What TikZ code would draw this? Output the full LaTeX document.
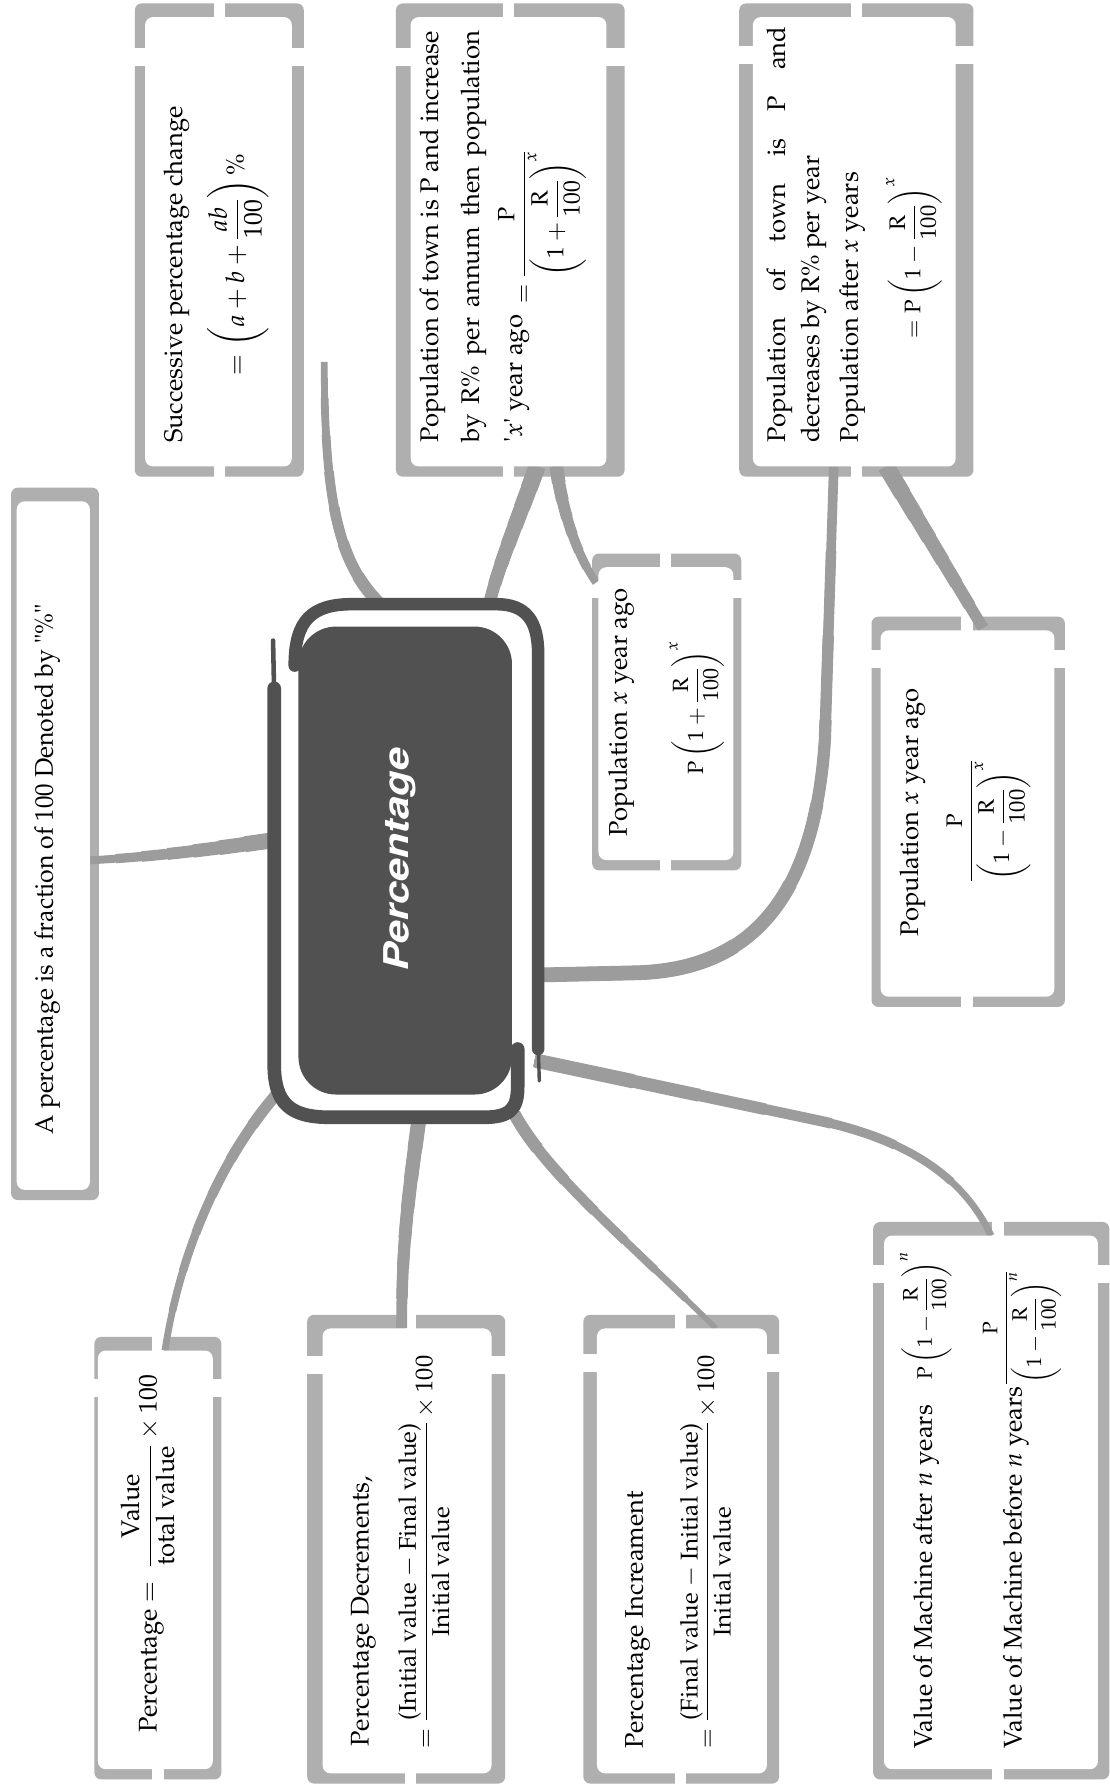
\documentclass[tikz,border=0pt]{standalone}
\usepackage[T1]{fontenc}
\usepackage{mathpazo}
\usepackage{amsmath}
\usepackage{textcomp}
\usepackage{graphicx}
\usetikzlibrary{calc}
\definecolor{framegray}{HTML}{AFAFAF}
\definecolor{branchgray}{HTML}{9C9C9C}
\definecolor{hubfill}{HTML}{515151}
\pgfdeclarelayer{bg}
\pgfdeclarelayer{conn}
\pgfsetlayers{bg,conn,main}
\tikzset{
  wbox/.style={fill=white, draw=none, rounded corners=7pt, inner sep=0pt, outer sep=0pt},
  branch/.style={draw=branchgray, line cap=butt},
  txt/.style={rotate=90, inner sep=0pt, outer sep=0pt, font=\fontsize{22.5}{31}\selectfont, anchor=base west},
  hubline/.style={draw=hubfill, line cap=round, line join=round},
}
% name, x1, y1, x2, y2, vertical gap x, horizontal gap y, left margin, right margin
\newcommand\cbox[9]{%
  \begin{pgfonlayer}{bg}
    \fill[framegray, rounded corners=6pt] (#2-#8,#3-12) rectangle (#4+#9,#5+9);
    \fill[white] (#6-5,#3-20) rectangle (#6+5,#5+20);
    \fill[white] (#2-#8-6,#7-8) rectangle (#4+#9+6,#7+8);
  \end{pgfonlayer}
  \node[wbox, minimum width={#4-#2}, minimum height={#5-#3}] (#1) at ({(#2+#4)/2},{(#3+#5)/2}) {};
}
% path, thin width, thick width, approx length  (tapered branch)
\newcommand\branch[4]{%
  \begin{pgfonlayer}{conn}
    \foreach \k in {0,...,6}{%
      \pgfmathsetmacro\bw{#2+(#3-#2)*\k/6}%
      \pgfmathsetmacro\bo{#4*\k/7}%
      \draw[branch, line width=\bw pt, dash pattern=on 0pt off \bo pt on 5000pt] #1;
    }
  \end{pgfonlayer}
}
\begin{document}
\begin{tikzpicture}[x=1pt, y=-1pt]
\useasboundingbox (0,0) rectangle (975,1568);
\begin{pgfonlayer}{bg}
  \fill[white] (0,0) rectangle (975,1568);
\end{pgfonlayer}

% boxes
\cbox{A}{14.7}{440.6}{79}{1045.8}{-100}{-100}{5}{8}
\cbox{S}{127.5}{15}{256.5}{410}{193}{50}{9}{10.5}
\cbox{T}{361}{15}{533}{410}{447}{50}{13}{16}
\cbox{D}{661.7}{15}{840}{410}{753}{48}{12}{15.6}
\cbox{PA}{526}{498.5}{644.5}{756}{585}{518}{5.5}{7}
\cbox{PB}{774}{554}{926.7}{876}{850}{579}{8}{9.3}
\cbox{V}{86}{1187}{187}{1555}{139}{1220}{3}{7.5}
\cbox{Dec}{283.5}{1167.6}{432}{1558.6}{361}{1200}{13.5}{12}
\cbox{Inc}{524.7}{1167.6}{674}{1558.6}{598}{1198}{12}{10.7}
\cbox{M}{777}{1086}{965}{1555}{877}{1120}{9.5}{10}

% central hub
\node[fill=hubfill, rounded corners=33pt, minimum width=187.7, minimum height=411.3, inner sep=0pt, outer sep=0pt] (P) at (356.15,756.35) {};
\draw[hubline, line width=11pt] (259,585) .. controls (259,545) and (274,531) .. (310,531) -- (436,531) .. controls (462,531) and (473,545) .. (473,575) -- (473,922);
\draw[hubline, line width=3pt] (473,915) -- (474,950);
\draw[hubline, line width=4pt] (240,563) -- (241,612);
\draw[hubline, line width=12pt] (241,605) -- (241,935) .. controls (241,970) and (255,982) .. (290,982) -- (425,982) .. controls (448,982) and (455,975) .. (455,955) -- (455,922);
\node[rotate=90, text=white, inner sep=0pt, font=\fontsize{30}{30}\usefont{T1}{phv}{b}{sl}] (Pt) at (352,756.6) {\scalebox{1.22}[1]{Percentage}};

% connectors
\coordinate (sEnd) at ($(S.south east)+(28.5,-92)$);
\branch{($(A.east)+(0,13)$) .. controls (150,752) and (200,744) .. ($(P.west)+(-22,-17.85)$)}{7}{14}{160}
\branch{(sEnd) .. controls (285,440) and (298,495) .. ($(P.north)+(-23,-20.7)$)}{6}{11}{225}
\branch{($(P.north)+(74,-20)$) .. controls (437,500) and (456,455) .. ($(T.south)+(25,0)$)}{11}{15}{125}
\branch{($(PA.north west)+(-2,13.5)$) .. controls (508,490) and (494,450) .. ($(T.south)+(42,0)$)}{7}{12}{110}
\branch{($(D.south)+(-18,0)$) -- (725,650) .. controls (716,790) and (660,852) .. (560,855) -- ($(P.east)+(20,100.65)$)}{8.5}{13}{520}
\branch{($(PB.north)+(13.65,-2)$) -- ($(D.south)+(28,0)$)}{10}{15}{160}
\branch{(M.north) .. controls (845,1030) and (790,1000) .. (720,985) -- ($(P.east)+(20,175.65)$)}{6}{12.5}{415}
\branch{($(Inc.north)+(30,0)$) .. controls (540,1080) and (480,1030) .. ($(P.south east)+(2,17)$)}{5}{11}{260}
\branch{($(Dec.north)+(-4.75,0)$) .. controls (353,1090) and (360,1045) .. ($(P.south)+(12,22)$)}{9.5}{13}{185}
\branch{($(V.north)+(8.5,0)$) .. controls (160,1090) and (200,1010) .. ($(P.south west)+(-16,-4)$)}{6}{10}{250}

% texts
\node[txt] (At) at (46.5,997) {\scalebox{0.97}[1]{A percentage is a fraction of 100 Denoted by "\%"}};

\node[txt] (St1) at (160,389.3) {Successive percentage change};
\node[txt] (St2) at (214.6,330) {$=\left(a+b+\dfrac{ab}{100}\right)\%$};

\node[txt] (Tt1) at (385,389.3) {\makebox[362pt][s]{Population of town is P and increase}};
\node[txt] (Tt2) at (421,389.3) {\makebox[362pt][s]{by R\% per annum then population}};
\node[txt] (Tt3) at (459,389.3) {\textquotesingle$x$\textquotesingle\ year ago};
\node[txt] (Tf) at (466,267) {\scalebox{0.92}{$=\dfrac{\mathrm{P}}{\left(1+\dfrac{\mathrm{R}}{100}\right)^{x}}$}};

\node[txt] (Dt1) at (690,389.3) {\makebox[366pt][s]{Population of town is P and}};
\node[txt] (Dt2) at (720,389.3) {decreases by R\% per year};
\node[txt] (Dt3) at (754,389.3) {Population after $x$ years};
\node[txt] (Df) at (809,298) {\scalebox{0.88}{$=\mathrm{P}\left(1-\dfrac{\mathrm{R}}{100}\right)^{x}$}};

\node[txt] (PAt) at (551,735.6) {Population $x$ year ago};
\node[txt] (PAf) at (618,681) {\scalebox{0.86}{$\mathrm{P}\left(1+\dfrac{\mathrm{R}}{100}\right)^{x}$}};

\node[txt] (PBt) at (807,823.5) {Population $x$ year ago};
\node[txt] (PBf) at (859,775) {\scalebox{0.88}{$\dfrac{\mathrm{P}}{\left(1-\dfrac{\mathrm{R}}{100}\right)^{x}}$}};

\node[txt] (Vt) at (137.6,1523) {Percentage $=\;\dfrac{\text{Value}}{\text{total value}}\times 100$};

\node[txt] (Dect) at (324,1535) {Percentage Decrements,};
\node[txt] (Decf) at (380,1537) {\scalebox{0.95}{$=\dfrac{\text{(Initial value $-$ Final value)}}{\text{Initial value}}\times 100$}};

\node[txt] (Inct) at (565,1537) {Percentage Increament};
\node[txt] (Incf) at (627.6,1537) {\scalebox{0.95}{$=\dfrac{\text{(Final value $-$ Initial value)}}{\text{Initial value}}\times 100$}};

\node[txt] (Mt1) at (819,1537) {Value of Machine after $n$ years\quad\scalebox{0.82}{$\mathrm{P}\left(1-\dfrac{\mathrm{R}}{100}\right)^{n}$}};
\node[txt] (Mt2) at (898,1537) {Value of Machine before $n$ years};
\node[txt] (Mf2) at (889,1217) {\scalebox{0.82}{$\dfrac{\mathrm{P}}{\left(1-\dfrac{\mathrm{R}}{100}\right)^{n}}$}};
\end{tikzpicture}
\end{document}
